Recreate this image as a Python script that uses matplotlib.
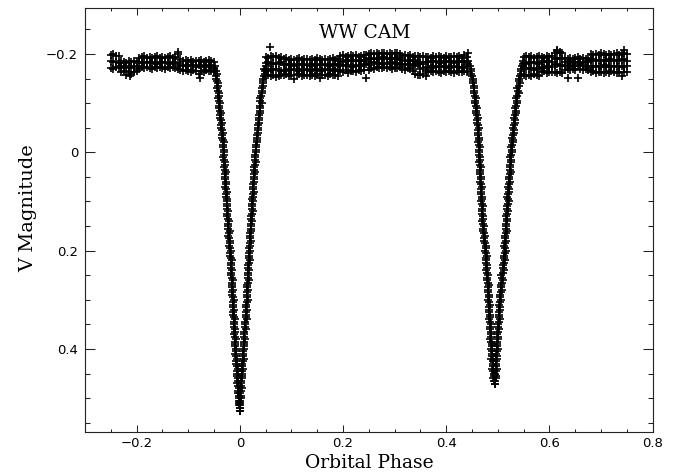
import matplotlib
matplotlib.use("Agg")
import matplotlib.pyplot as plt
from matplotlib.ticker import MultipleLocator, FuncFormatter
import numpy as np

# ---------------- data ----------------
title = "WW CAM"
x_label = "Orbital Phase"
y_label = "V Magnitude"

# out-of-eclipse segment before primary minimum
A_phase = [-0.250, -0.245, -0.240, -0.235, -0.230, -0.225, -0.220, -0.215, -0.210, -0.205,
           -0.200, -0.195, -0.190, -0.185, -0.180, -0.175, -0.170, -0.165, -0.160, -0.155,
           -0.150, -0.145, -0.140, -0.135, -0.130, -0.125, -0.120, -0.115, -0.110, -0.105,
           -0.100, -0.095, -0.090, -0.085, -0.080, -0.075, -0.070, -0.065, -0.060, -0.055,
           -0.050]
A_top = [-0.197, -0.199, -0.195, -0.196, -0.186, -0.184, -0.182, -0.185, -0.183, -0.186,
         -0.184, -0.191, -0.193, -0.195, -0.192, -0.194, -0.191, -0.193, -0.195, -0.192,
         -0.194, -0.191, -0.193, -0.196, -0.192, -0.194, -0.199, -0.190, -0.186, -0.188,
         -0.185, -0.187, -0.184, -0.186, -0.185, -0.187, -0.184, -0.186, -0.188, -0.185,
         -0.183]
A_mid = [-0.186, -0.184, -0.183, -0.181, -0.175, -0.173, -0.174, -0.172, -0.175, -0.173,
         -0.176, -0.181, -0.183, -0.182, -0.184, -0.181, -0.183, -0.182, -0.180, -0.183,
         -0.181, -0.184, -0.182, -0.180, -0.183, -0.181, -0.182, -0.178, -0.176, -0.177,
         -0.175, -0.178, -0.176, -0.174, -0.177, -0.175, -0.176, -0.174, -0.177, -0.176,
         -0.172]
A_bot = [-0.172, -0.170, -0.173, -0.171, -0.163, -0.165, -0.158, -0.164, -0.160, -0.163,
         -0.165, -0.170, -0.173, -0.171, -0.174, -0.172, -0.170, -0.173, -0.171, -0.174,
         -0.172, -0.170, -0.173, -0.171, -0.174, -0.172, -0.170, -0.167, -0.165, -0.168,
         -0.166, -0.164, -0.167, -0.165, -0.160, -0.166, -0.164, -0.167, -0.165, -0.166,
         -0.163]

# out-of-eclipse segment between the minima
B_phase = [0.050, 0.055, 0.060, 0.065, 0.070, 0.075, 0.080, 0.085, 0.090, 0.095,
           0.100, 0.105, 0.110, 0.115, 0.120, 0.125, 0.130, 0.135, 0.140, 0.145,
           0.150, 0.155, 0.160, 0.165, 0.170, 0.175, 0.180, 0.185, 0.190, 0.195,
           0.200, 0.205, 0.210, 0.215, 0.220, 0.225, 0.230, 0.235, 0.240, 0.245,
           0.250, 0.255, 0.260, 0.265, 0.270, 0.275, 0.280, 0.285, 0.290, 0.295,
           0.300, 0.305, 0.310, 0.315, 0.320, 0.325, 0.330, 0.335, 0.340, 0.345,
           0.350, 0.355, 0.360, 0.365, 0.370, 0.375, 0.380, 0.385, 0.390, 0.395,
           0.400, 0.405, 0.410, 0.415, 0.420, 0.425, 0.430, 0.435, 0.440]
B_r1 = [-0.194, -0.192, -0.196, -0.193, -0.195, -0.192, -0.194,
        -0.189, -0.191, -0.188, -0.190, -0.187, -0.189, -0.191, -0.188, -0.190, -0.189, -0.187,
        -0.190, -0.188, -0.191, -0.189, -0.188, -0.190, -0.187, -0.189, -0.191, -0.188, -0.190,
        -0.195, -0.197, -0.194, -0.196, -0.198, -0.195, -0.197, -0.194, -0.196,
        -0.198, -0.197, -0.199,
        -0.201, -0.199, -0.202, -0.200, -0.203, -0.201, -0.199, -0.202, -0.200, -0.201, -0.203, -0.200,
        -0.196, -0.198, -0.195, -0.197, -0.194, -0.196, -0.195,
        -0.194, -0.196, -0.193,
        -0.194, -0.192, -0.195, -0.193, -0.196, -0.194, -0.192, -0.195, -0.193, -0.194, -0.196,
        -0.193, -0.195, -0.192,
        -0.198, -0.194]
B_r2 = [-0.181, -0.183, -0.180, -0.182, -0.179, -0.181, -0.183,
        -0.178, -0.180, -0.177, -0.179, -0.176, -0.178, -0.180, -0.177, -0.179, -0.178, -0.176,
        -0.179, -0.177, -0.180, -0.178, -0.177, -0.179, -0.176, -0.178, -0.180, -0.177, -0.179,
        -0.186, -0.184, -0.187, -0.185, -0.186, -0.188, -0.185, -0.187, -0.186,
        -0.188, -0.186, -0.189,
        -0.191, -0.189, -0.192, -0.190, -0.191, -0.193, -0.190, -0.192, -0.189, -0.191, -0.190, -0.192,
        -0.187, -0.185, -0.188, -0.186, -0.187, -0.185, -0.184,
        -0.182, -0.180, -0.183,
        -0.184, -0.186, -0.183, -0.185, -0.184, -0.182, -0.185, -0.183, -0.186, -0.184, -0.182,
        -0.185, -0.183, -0.184,
        -0.185, -0.183]
B_r3 = [-0.168, -0.166, -0.169, -0.167, -0.170, -0.168, -0.166,
        -0.168, -0.166, -0.169, -0.167, -0.168, -0.170, -0.166, -0.168, -0.167, -0.169, -0.166,
        -0.168, -0.170, -0.167, -0.168, -0.166, -0.169, -0.168, -0.167, -0.169, -0.166, -0.168,
        -0.176, -0.178, -0.175, -0.177, -0.176, -0.174, -0.177, -0.175, -0.176,
        -0.178, -0.180, -0.177,
        -0.181, -0.183, -0.180, -0.182, -0.181, -0.179, -0.182, -0.180, -0.183, -0.181, -0.182, -0.180,
        -0.178, -0.180, -0.177, -0.179, -0.178, -0.176, -0.179,
        -0.169, -0.171, -0.168,
        -0.174, -0.172, -0.175, -0.173, -0.174, -0.176, -0.173, -0.175, -0.172, -0.174, -0.175,
        -0.173, -0.174, -0.172,
        -0.174, -0.176]
B_r4 = [-0.156, -0.158, -0.155, -0.157, -0.154, -0.156, -0.158,
        -0.157, -0.159, -0.156, -0.158, -0.150, -0.157, -0.159, -0.156, -0.158, -0.157, -0.155,
        -0.158, -0.156, -0.159, -0.151, -0.157, -0.158, -0.156, -0.159, -0.157, -0.158, -0.156,
        -0.166, -0.164, -0.167, -0.161, -0.165, -0.166, -0.164, -0.167, -0.165,
        -0.168, -0.151, -0.167,
        -0.172, -0.170, -0.173, -0.171, -0.172, -0.174, -0.171, -0.173, -0.170, -0.172, -0.171, -0.173,
        -0.170, -0.168, -0.171, -0.169, -0.166, -0.160, -0.157,
        -0.157, -0.159, -0.156,
        -0.164, -0.166, -0.163, -0.165, -0.164, -0.162, -0.165, -0.163, -0.166, -0.164, -0.162,
        -0.165, -0.163, -0.164,
        -0.165, -0.163]

# out-of-eclipse segment after secondary minimum
C_phase = [0.550, 0.555, 0.560, 0.565, 0.570, 0.575, 0.580, 0.585, 0.590, 0.595,
           0.600, 0.605, 0.610, 0.615, 0.620, 0.625, 0.630, 0.635, 0.640, 0.645,
           0.650, 0.655, 0.660, 0.665, 0.670, 0.675, 0.680, 0.685, 0.690, 0.695,
           0.700, 0.705, 0.710, 0.715, 0.720, 0.725, 0.730, 0.735, 0.740, 0.745,
           0.750]
C_r1 = [-0.194, -0.196, -0.193, -0.195, -0.192, -0.194, -0.196,
        -0.194, -0.192, -0.195, -0.193, -0.196,
        -0.203, -0.206, -0.204, -0.201,
        -0.191, -0.189, -0.192, -0.190, -0.191, -0.193, -0.190, -0.192, -0.189, -0.191,
        -0.199, -0.197, -0.200, -0.198, -0.201, -0.199, -0.197, -0.200, -0.198, -0.199,
        -0.201, -0.198, -0.200, -0.202, -0.199]
C_r2 = [-0.182, -0.180, -0.183, -0.181, -0.184, -0.182, -0.180,
        -0.184, -0.186, -0.183, -0.185, -0.184,
        -0.191, -0.189, -0.192, -0.190,
        -0.183, -0.185, -0.182, -0.184, -0.183, -0.181, -0.184, -0.182, -0.185, -0.183,
        -0.187, -0.189, -0.186, -0.188, -0.187, -0.185, -0.188, -0.186, -0.189, -0.187,
        -0.186, -0.188, -0.187, -0.189, -0.186]
C_r3 = [-0.170, -0.172, -0.169, -0.171, -0.168, -0.170, -0.172,
        -0.174, -0.172, -0.175, -0.173, -0.174,
        -0.177, -0.179, -0.176, -0.178,
        -0.176, -0.174, -0.177, -0.175, -0.176, -0.178, -0.175, -0.177, -0.174, -0.176,
        -0.175, -0.173, -0.176, -0.174, -0.175, -0.177, -0.174, -0.176, -0.173, -0.175,
        -0.176, -0.174, -0.175, -0.173, -0.176]
C_r4 = [-0.157, -0.155, -0.158, -0.156, -0.159, -0.157, -0.155,
        -0.163, -0.165, -0.162, -0.164, -0.163,
        -0.163, -0.161, -0.164, -0.162,
        -0.168, -0.170, -0.167, -0.169, -0.168, -0.151, -0.169, -0.167, -0.170, -0.168,
        -0.163, -0.165, -0.162, -0.164, -0.163, -0.161, -0.164, -0.162, -0.165, -0.163,
        -0.162, -0.164, -0.155, -0.164, -0.163]

# isolated outliers
out_phase = [0.058, 0.442, -0.120, 0.614, 0.636, 0.745, -0.078, -0.212]
out_mag = [-0.215, -0.203, -0.205, -0.208, -0.151, -0.208, -0.152, -0.155]

# primary eclipse branches (ingress / egress), two interleaved sets of points
prim_mag = [-0.175, -0.165, -0.155, -0.145, -0.135, -0.125, -0.115, -0.105, -0.095, -0.085,
            -0.075, -0.065, -0.055, -0.045, -0.035, -0.025, -0.015, -0.005, 0.005, 0.015,
            0.025, 0.035, 0.045, 0.055, 0.065, 0.075, 0.085, 0.095, 0.105, 0.115,
            0.125, 0.135, 0.145, 0.155, 0.165, 0.175, 0.185, 0.195, 0.205, 0.215,
            0.225, 0.235, 0.245, 0.255, 0.265, 0.275, 0.285, 0.295, 0.305, 0.315,
            0.325, 0.335, 0.345, 0.355, 0.365, 0.375, 0.385, 0.395, 0.405, 0.415,
            0.425, 0.435, 0.445, 0.455, 0.465, 0.475, 0.485, 0.495, 0.505, 0.515,
            0.527]
prim_left = [-0.049, -0.047, -0.046, -0.044, -0.043, -0.042, -0.041, -0.041, -0.040, -0.039,
             -0.038, -0.037, -0.036, -0.035, -0.034, -0.033, -0.032, -0.031, -0.031, -0.030,
             -0.029, -0.029, -0.028, -0.028, -0.027, -0.027, -0.026, -0.025, -0.025, -0.024,
             -0.024, -0.023, -0.022, -0.022, -0.021, -0.021, -0.020, -0.019, -0.019, -0.018,
             -0.018, -0.017, -0.017, -0.016, -0.016, -0.015, -0.015, -0.014, -0.014, -0.013,
             -0.013, -0.012, -0.011, -0.011, -0.010, -0.010, -0.009, -0.009, -0.008, -0.007,
             -0.007, -0.006, -0.005, -0.005, -0.004, -0.003, -0.003, -0.002, -0.001, -0.001,
             0.000]
prim_right = [0.050, 0.048, 0.046, 0.045, 0.044, 0.043, 0.041, 0.040, 0.040, 0.039,
              0.038, 0.037, 0.036, 0.035, 0.034, 0.033, 0.032, 0.031, 0.030, 0.029,
              0.029, 0.028, 0.027, 0.027, 0.026, 0.026, 0.025, 0.024, 0.024, 0.023,
              0.023, 0.022, 0.021, 0.021, 0.020, 0.020, 0.019, 0.018, 0.018, 0.017,
              0.017, 0.016, 0.016, 0.015, 0.015, 0.014, 0.014, 0.013, 0.013, 0.012,
              0.012, 0.011, 0.010, 0.010, 0.009, 0.009, 0.008, 0.008, 0.007, 0.006,
              0.006, 0.005, 0.004, 0.004, 0.003, 0.003, 0.002, 0.002, 0.001, 0.001,
              0.000]
prim_mag2 = [-0.170, -0.160, -0.150, -0.140, -0.130, -0.120, -0.110, -0.100, -0.090, -0.080,
             -0.070, -0.060, -0.050, -0.040, -0.030, -0.020, -0.010, 0.000, 0.010, 0.020,
             0.030, 0.040, 0.050, 0.060, 0.070, 0.080, 0.090, 0.100, 0.110, 0.120,
             0.130, 0.140, 0.150, 0.160, 0.170, 0.180, 0.190, 0.200, 0.210, 0.220,
             0.230, 0.240, 0.250, 0.260, 0.270, 0.280, 0.290, 0.300, 0.310, 0.320,
             0.330, 0.340, 0.350, 0.360, 0.370, 0.380, 0.390, 0.400, 0.410, 0.420,
             0.430, 0.440, 0.450, 0.460, 0.470, 0.480, 0.490, 0.500, 0.510, 0.520]
prim_left2 = [-0.050, -0.045, -0.046, -0.042, -0.044, -0.041, -0.042, -0.039, -0.041, -0.037,
              -0.039, -0.035, -0.037, -0.033, -0.035, -0.031, -0.033, -0.030, -0.032, -0.028,
              -0.030, -0.027, -0.029, -0.026, -0.028, -0.025, -0.027, -0.024, -0.025, -0.022,
              -0.024, -0.021, -0.023, -0.020, -0.022, -0.019, -0.021, -0.018, -0.019, -0.016,
              -0.018, -0.015, -0.017, -0.014, -0.016, -0.013, -0.015, -0.012, -0.014, -0.011,
              -0.013, -0.010, -0.012, -0.009, -0.011, -0.008, -0.010, -0.007, -0.009, -0.006,
              -0.007, -0.004, -0.006, -0.003, -0.005, -0.002, -0.003, -0.001, -0.002, 0.001]
prim_right2 = [0.047, 0.048, 0.044, 0.045, 0.042, 0.043, 0.040, 0.042, 0.039, 0.040,
               0.037, 0.038, 0.035, 0.036, 0.033, 0.034, 0.031, 0.032, 0.029, 0.031,
               0.028, 0.029, 0.027, 0.028, 0.026, 0.027, 0.025, 0.026, 0.023, 0.025,
               0.022, 0.024, 0.021, 0.022, 0.020, 0.021, 0.019, 0.020, 0.017, 0.019,
               0.016, 0.018, 0.015, 0.017, 0.014, 0.016, 0.013, 0.015, 0.012, 0.014,
               0.011, 0.013, 0.010, 0.011, 0.009, 0.010, 0.008, 0.009, 0.007, 0.008,
               0.005, 0.007, 0.004, 0.005, 0.003, 0.004, 0.001, 0.003, 0.000, 0.001]

# secondary eclipse branches, two interleaved sets of points
sec_mag = [-0.185, -0.175, -0.165, -0.155, -0.145, -0.135, -0.125, -0.115, -0.105, -0.095,
           -0.085, -0.075, -0.065, -0.055, -0.045, -0.035, -0.025, -0.015, -0.005, 0.005,
           0.015, 0.025, 0.035, 0.045, 0.055, 0.065, 0.075, 0.085, 0.095, 0.105,
           0.115, 0.125, 0.135, 0.145, 0.155, 0.165, 0.175, 0.185, 0.195, 0.205,
           0.215, 0.225, 0.235, 0.245, 0.255, 0.265, 0.275, 0.285, 0.295, 0.305,
           0.315, 0.325, 0.335, 0.345, 0.355, 0.365, 0.375, 0.385, 0.395, 0.405,
           0.415, 0.425, 0.435, 0.445, 0.455, 0.465, 0.472]
sec_left = [0.443, 0.446, 0.448, 0.450, 0.452, 0.453, 0.454, 0.455, 0.456, 0.457,
            0.458, 0.459, 0.460, 0.461, 0.462, 0.462, 0.463, 0.463, 0.464, 0.464,
            0.465, 0.465, 0.466, 0.466, 0.467, 0.467, 0.468, 0.468, 0.469, 0.469,
            0.470, 0.470, 0.471, 0.471, 0.472, 0.473, 0.474, 0.475, 0.476, 0.476,
            0.477, 0.477, 0.478, 0.479, 0.479, 0.480, 0.481, 0.481, 0.482, 0.482,
            0.483, 0.483, 0.484, 0.485, 0.485, 0.486, 0.487, 0.487, 0.488, 0.488,
            0.489, 0.490, 0.491, 0.491, 0.492, 0.493, 0.494]
sec_right = [0.548, 0.546, 0.544, 0.542, 0.541, 0.540, 0.539, 0.538, 0.537, 0.536,
             0.535, 0.534, 0.533, 0.532, 0.531, 0.530, 0.529, 0.528, 0.527, 0.526,
             0.525, 0.524, 0.524, 0.523, 0.522, 0.522, 0.521, 0.520, 0.519, 0.519,
             0.518, 0.517, 0.517, 0.516, 0.516, 0.515, 0.514, 0.514, 0.513, 0.513,
             0.512, 0.511, 0.510, 0.509, 0.508, 0.508, 0.507, 0.506, 0.505, 0.505,
             0.504, 0.503, 0.503, 0.502, 0.501, 0.500, 0.500, 0.499, 0.499, 0.498,
             0.498, 0.497, 0.497, 0.496, 0.496, 0.495, 0.494]
sec_mag2 = [-0.180, -0.170, -0.160, -0.150, -0.140, -0.130, -0.120, -0.110, -0.100, -0.090,
            -0.080, -0.070, -0.060, -0.050, -0.040, -0.030, -0.020, -0.010, 0.000, 0.010,
            0.020, 0.030, 0.040, 0.050, 0.060, 0.070, 0.080, 0.090, 0.100, 0.110,
            0.120, 0.130, 0.140, 0.150, 0.160, 0.170, 0.180, 0.190, 0.200, 0.210,
            0.220, 0.230, 0.240, 0.250, 0.260, 0.270, 0.280, 0.290, 0.300, 0.310,
            0.320, 0.330, 0.340, 0.350, 0.360, 0.370, 0.380, 0.390, 0.400, 0.410,
            0.420, 0.430, 0.440, 0.450, 0.460]
sec_left2 = [0.443, 0.448, 0.448, 0.452, 0.451, 0.454, 0.453, 0.457, 0.455, 0.459,
             0.457, 0.461, 0.459, 0.463, 0.461, 0.464, 0.462, 0.465, 0.463, 0.466,
             0.464, 0.467, 0.465, 0.468, 0.466, 0.469, 0.467, 0.470, 0.468, 0.471,
             0.469, 0.472, 0.470, 0.473, 0.471, 0.475, 0.473, 0.477, 0.475, 0.478,
             0.476, 0.479, 0.477, 0.480, 0.478, 0.482, 0.480, 0.483, 0.481, 0.484,
             0.482, 0.485, 0.483, 0.486, 0.484, 0.487, 0.485, 0.488, 0.486, 0.489,
             0.487, 0.491, 0.489, 0.492, 0.491]
sec_right2 = [0.549, 0.544, 0.545, 0.540, 0.542, 0.538, 0.540, 0.536, 0.538, 0.534,
              0.536, 0.532, 0.534, 0.530, 0.532, 0.528, 0.530, 0.526, 0.528, 0.524,
              0.526, 0.523, 0.525, 0.521, 0.524, 0.520, 0.522, 0.518, 0.521, 0.517,
              0.519, 0.516, 0.518, 0.515, 0.517, 0.513, 0.516, 0.512, 0.515, 0.511,
              0.513, 0.509, 0.511, 0.507, 0.510, 0.506, 0.508, 0.504, 0.507, 0.503,
              0.505, 0.502, 0.504, 0.500, 0.502, 0.499, 0.501, 0.498, 0.500, 0.497,
              0.499, 0.496, 0.498, 0.495, 0.497]

x_ticks = [-0.2, 0.0, 0.2, 0.4, 0.6, 0.8]
y_ticks = [-0.2, 0.0, 0.2, 0.4]

# ---------------- assemble ----------------
phase = np.concatenate([
    A_phase, A_phase, A_phase,
    B_phase, B_phase, B_phase, B_phase,
    C_phase, C_phase, C_phase, C_phase,
    out_phase, prim_left, prim_right, prim_left2, prim_right2,
    sec_left, sec_right, sec_left2, sec_right2])
mag = np.concatenate([
    A_top, A_mid, A_bot,
    B_r1, B_r2, B_r3, B_r4,
    C_r1, C_r2, C_r3, C_r4,
    out_mag, prim_mag, prim_mag, prim_mag2, prim_mag2,
    sec_mag, sec_mag, sec_mag2, sec_mag2])

fig = plt.figure(figsize=(6.78, 4.72), dpi=100)
ax = fig.add_axes([0.1254, 0.0847, 0.8373, 0.8983])

ax.plot(phase, mag, linestyle="none", marker="+", markersize=6.2,
        markeredgewidth=1.2, color="black")

ax.set_xlim(-0.3, 0.8)
ax.set_ylim(0.569, -0.2935)

def fmt(v, pos):
    if abs(v) < 1e-9:
        return "0"
    return ("%.1f" % v).replace("-", "\u2212")

ax.set_xticks(x_ticks)
ax.set_yticks(y_ticks)
ax.xaxis.set_minor_locator(MultipleLocator(0.05))
ax.yaxis.set_minor_locator(MultipleLocator(0.05))
ax.xaxis.set_major_formatter(FuncFormatter(fmt))
ax.yaxis.set_major_formatter(FuncFormatter(fmt))

ax.tick_params(which="both", direction="in", top=True, right=True,
               width=0.75, color="#222222")
ax.tick_params(axis="x", which="major", length=5, pad=3.5)
ax.tick_params(axis="x", which="minor", length=2.5)
ax.tick_params(axis="y", which="major", length=7, pad=5)
ax.tick_params(axis="y", which="minor", length=3.6)
for lab in ax.get_xticklabels() + ax.get_yticklabels():
    lab.set_family("DejaVu Sans")
    lab.set_fontsize(9.5)

for sp in ax.spines.values():
    sp.set_linewidth(0.8)
    sp.set_color("#222222")

ax.text(0.493, 0.9285, title, transform=ax.transAxes, ha="center",
        va="baseline", fontsize=13.5, family="DejaVu Serif")

fig.text(368.9 / 678, 4.0 / 472, x_label, ha="center", va="baseline",
         fontsize=13.5, family="DejaVu Serif")
fig.text(33.3 / 678, 1 - 208 / 472, y_label, rotation=90, rotation_mode="anchor",
         ha="center", va="baseline", fontsize=14, family="DejaVu Serif")

fig.savefig("out.png", dpi=100)
